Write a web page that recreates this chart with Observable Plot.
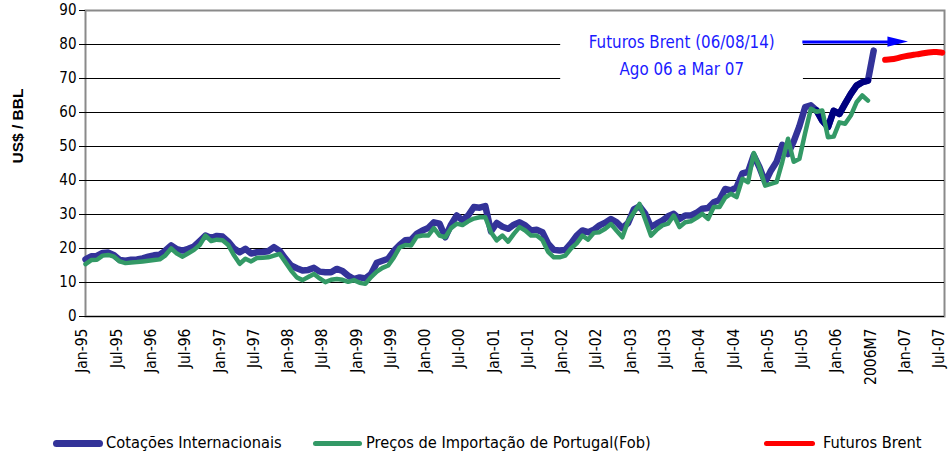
<!DOCTYPE html>
<html><head><meta charset="utf-8">
<script src="https://cdn.jsdelivr.net/npm/d3@7"></script>
<script src="https://cdn.jsdelivr.net/npm/@observablehq/plot@0.6"></script>
<style>
body{margin:0;background:#fff;}
#wrap{position:relative;width:948px;height:459px;overflow:hidden;font-family:"Liberation Sans Narrow","Arial Narrow","DejaVu Sans Condensed",sans-serif;}
.sw{position:absolute;height:0;border-radius:4px;}
.lt{position:absolute;font-size:16.3px;color:#000;line-height:1;white-space:nowrap;}
</style></head><body><div id="wrap"></div>
<script>
// ---- data (month index 0 = Jan-95) ----
const tickLabels = ["Jan-95","Jul-95","Jan-96","Jul-96","Jan-97","Jul-97","Jan-98","Jul-98","Jan-99","Jul-99","Jan-00","Jul-00","Jan-01","Jul-01","Jan-02","Jul-02","Jan-03","Jul-03","Jan-04","Jul-04","Jan-05","Jul-05","Jan-06","2006M7","Jan-07","Jul-07"];
const yTicks = [0,10,20,30,40,50,60,70,80,90];
const gridValues = [0,10,20,30,40,50,60,70,80];
const cotacoes = [
16.8,17.7,17.8,18.7,18.8,18.0,16.6,16.4,16.7,16.8,17.1,17.6,
18.0,18.2,19.4,20.9,19.8,19.4,19.9,20.6,22.2,23.8,23.1,23.7,
23.5,22.0,20.0,18.9,19.9,18.5,18.9,19.0,19.2,20.4,19.3,17.0,
15.0,14.2,13.5,13.7,14.3,13.2,13.0,13.0,14.0,13.4,12.0,11.0,
11.5,11.2,12.5,15.8,16.4,17.0,19.3,21.0,22.4,22.6,24.3,25.3,
26.0,27.7,27.3,23.3,27.0,29.7,28.3,29.7,32.2,32.0,32.5,25.0,
27.5,26.4,25.8,27.0,27.7,26.8,25.3,25.5,24.8,21.4,19.6,19.4,
19.6,21.5,23.8,25.3,24.8,25.5,26.8,27.6,28.7,27.7,26.0,27.5,
31.5,32.4,30.2,26.3,27.3,28.2,29.5,30.2,28.7,29.7,29.7,30.5,
31.7,31.9,33.6,34.3,37.5,37.1,38.0,42.1,42.5,47.4,43.9,39.5,
42.9,45.5,50.5,47.8,51.5,56.0,61.6,62.1,60.6,57.6,55.7,60.5,
59.6,62.6,65.5,67.9,68.9,69.4,78.2];
const precosImport = [
15.4,16.6,16.7,17.9,18.1,17.6,16.2,15.7,15.9,16.0,16.2,16.4,
16.6,16.8,18.0,20.0,18.5,17.6,18.6,19.6,21.0,23.8,22.2,22.6,
22.4,21.0,18.0,15.5,17.0,16.2,17.2,17.3,17.4,17.9,18.4,16.0,
13.5,11.5,10.7,11.6,12.5,11.2,10.1,10.8,11.0,10.8,10.2,10.7,
9.9,9.6,11.6,13.2,14.3,15.0,17.4,20.3,21.0,20.9,23.5,23.8,
23.8,26.0,23.8,23.3,26.0,27.3,26.9,28.0,28.8,29.2,29.2,24.8,
22.4,23.8,22.0,24.3,26.3,25.3,23.8,23.8,22.5,19.0,17.4,17.4,
17.9,20.0,21.5,23.8,22.6,24.6,24.8,25.8,27.2,25.2,23.3,28.0,
30.5,33.1,28.5,23.8,25.5,26.8,27.3,29.7,26.3,27.7,28.0,29.0,
30.2,28.7,32.2,32.2,35.0,36.1,35.1,40.5,39.5,48.1,43.9,38.5,
39.0,39.5,45.5,52.3,45.5,46.4,54.0,61.1,60.2,60.6,52.7,52.9,
57.1,56.7,59.1,63.0,65.0,63.5];
const futurosStart = 140;
const futuros = [75.5,75.6,75.9,76.4,76.7,77.0,77.2,77.5,77.8,77.8,77.6];
const darkRange = [128, 137];
const annotLines = ["Futuros Brent (06/08/14)", "Ago 06 a Mar 07"];
const annotPos = {x: 104.4, y: [80.5, 72.5]};
const annotBox = {x1: 83.2, x2: 125.7, y1: 65, y2: 85};
const arrowSpec = {x1: 125.6, x2: 141, head: 144.1, y: 80.7, half: 1.5};

// ---- build ----
const blueData = cotacoes.map((v,i)=>({i, v}));
const greenData = precosImport.map((v,i)=>({i, v}));
const redData = futuros.map((v,k)=>({i: futurosStart + k, v}));
const darkData = blueData.filter(d => d.i >= darkRange[0] && d.i <= darkRange[1]);
const tickIdx = tickLabels.map((_,k)=>k*6);
const labelOf = new Map(tickIdx.map((t,k)=>[t, tickLabels[k]]));
const FF = '"Liberation Sans Narrow","Arial Narrow","DejaVu Sans Condensed",sans-serif';
const BLUE = "#333399", GREEN = "#339966", RED = "#ff0000", ABLUE = "#1a1aff";
const headData = [
  {x: arrowSpec.x2 - 0.5, y1: arrowSpec.y - arrowSpec.half, y2: arrowSpec.y + arrowSpec.half},
  {x: arrowSpec.head, y1: arrowSpec.y, y2: arrowSpec.y}
];

const chart = Plot.plot({
  width: 948, height: 415,
  marginLeft: 85, marginRight: 4, marginTop: 10, marginBottom: 99,
  style: {fontFamily: FF, background: "#fff", color: "#000"},
  x: {domain: [0, 150.4]},
  y: {domain: [0, 90]},
  marks: [
    Plot.frame({stroke: "#8a8a8a", strokeWidth: 2}),
    Plot.ruleY(gridValues, {stroke: "#000", strokeWidth: 1}),
    Plot.rect([annotBox], {x1: d => d.x1, x2: d => d.x2, y1: d => d.y1, y2: d => d.y2, fill: "#fff"}),
    Plot.axisY({ticks: yTicks, tickSize: 6, tickPadding: 3, fontSize: 15, label: null, stroke: "#000"}),
    Plot.axisX({ticks: tickIdx, tickFormat: d => labelOf.get(d), tickRotate: -90, tickSize: 0, tickPadding: 12, fontSize: 15.5, dx: -3, label: null}),
    Plot.text(["US$ / BBL"], {frameAnchor: "left", dx: -67, rotate: -90, fontWeight: "bold", fontSize: 15.5, fontFamily: '"Liberation Sans",Arial,sans-serif', fill: "#000"}),
    Plot.line(blueData, {x: "i", y: "v", stroke: BLUE, strokeWidth: 6.5, strokeLinejoin: "round", strokeLinecap: "round"}),
    Plot.line(darkData, {x: "i", y: "v", stroke: "#000080", strokeWidth: 6.5, strokeLinejoin: "round", strokeLinecap: "round"}),
    Plot.line(greenData, {x: "i", y: "v", stroke: GREEN, strokeWidth: 4.5, strokeLinejoin: "round", strokeLinecap: "round"}),
    Plot.line(redData, {x: "i", y: "v", stroke: RED, strokeWidth: 6, strokeLinejoin: "round", strokeLinecap: "round", curve: "basis"}),
    Plot.text(annotLines, {x: () => annotPos.x, y: (d,k) => annotPos.y[k], fill: ABLUE, fontSize: 16.8, fontFamily: FF}),
    Plot.ruleY([arrowSpec], {x1: d => d.x1, x2: d => d.x2, y: d => d.y, stroke: "#0000ff", strokeWidth: 3}),
    Plot.areaY(headData, {x: "x", y1: "y1", y2: "y2", fill: "#0000ff"})
  ]
});
const wrap = document.getElementById("wrap");
wrap.appendChild(chart);

const legend = [
  {label: "Cotações Internacionais", color: BLUE, w: 7, sx: 53, sw: 50, tx: 106},
  {label: "Preços de Importação de Portugal(Fob)", color: GREEN, w: 5, sx: 313, sw: 49, tx: 366},
  {label: "Futuros Brent", color: RED, w: 5, sx: 764, sw: 51, tx: 823}
];
for (const l of legend) {
  const s = document.createElement("div");
  s.className = "sw";
  s.style.left = l.sx + "px"; s.style.width = l.sw + "px";
  s.style.top = (443 - l.w/2) + "px"; s.style.height = l.w + "px";
  s.style.background = l.color;
  wrap.appendChild(s);
  const t = document.createElement("div");
  t.className = "lt";
  t.textContent = l.label;
  t.style.left = l.tx + "px"; t.style.top = "435px";
  wrap.appendChild(t);
}
</script></body></html>
